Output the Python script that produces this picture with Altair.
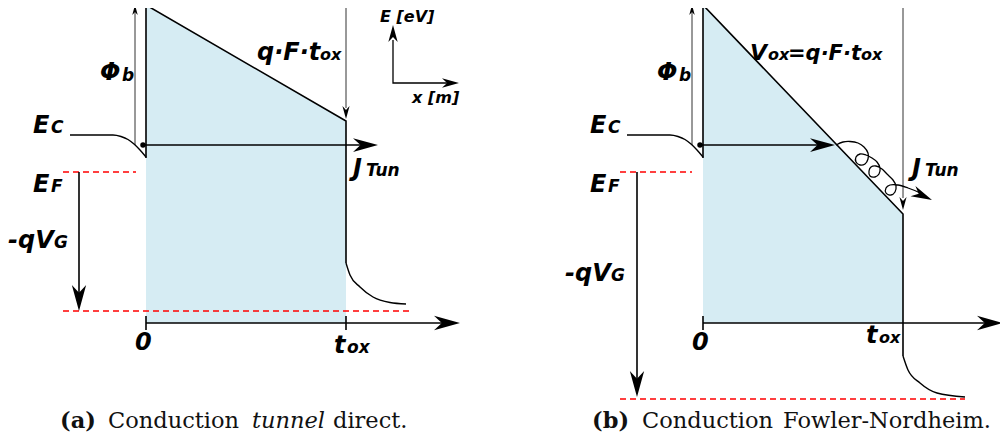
import altair as alt
import pandas as pd

# ---------------- diagram data (page-pixel units, y grows downward) ----------------
# oxide barrier fill (light blue)
FILL_A_X = [146, 346]
FILL_A_TOP = [5, 121]
FILL_B_X = [703, 903]
FILL_B_TOP = [5, 214]
FILL_BOTTOM = 323

# thick black polylines
BARRIER_A = [(146, 158), (146, 5), (346, 121), (346, 263)]
BARRIER_B = [(703, 158), (703, 5), (903, 214), (903, 356)]
JSHAFT_A = [(143, 145), (368, 145)]
JSHAFT_B = [(700, 145), (826, 145)]
XAXIS_A = [(146, 323), (448, 323)]
XAXIS_B = [(703, 323), (992, 323)]
TICK_A0 = [(146, 316), (146, 330)]
TICK_A1 = [(346, 316), (346, 330)]
TICK_B0 = [(703, 316), (703, 330)]
VG_A = [(79, 172), (79, 298)]
VG_B = [(637, 172), (637, 384)]
INSET = [(393, 40), (393, 83), (448, 83)]

# smooth curves
EC_A = [(70, 135), (113, 135), (121, 136.5), (128, 139.5), (134, 144), (140, 150), (146, 157)]
EC_B = [(627, 135), (670, 135), (678, 136.5), (685, 139.5), (691, 144), (697, 150), (703, 157)]
TAIL_A = [(346, 263), (350, 275), (360, 287), (373, 297), (390, 302.5), (406, 304)]
TAIL_B = [(903, 356), (908, 370), (920, 383), (937, 393), (965, 397)]
LOOP_B = [(836, 145), (843, 142), (850, 141.5), (858, 143), (864, 147), (868, 153), (868, 159),
          (865, 164), (860, 165), (856, 162), (856, 157), (860, 154), (866, 155), (872, 158),
          (877, 162), (880, 168), (879, 174), (875, 177), (870, 176), (869, 171), (871, 167),
          (876, 166), (882, 169), (887, 174), (893, 180), (896, 186), (895, 192), (891, 195),
          (886, 193), (886, 188), (890, 185), (898, 185), (908, 188), (918, 192), (925, 196)]

# thin lines
PHI_A = [(135, 145), (135, 12)]
PHI_B = [(692, 145), (692, 12)]
TOX_A = [(346, 6), (346, 108)]
TOX_B = [(903, 6), (903, 198)]

# red dashed levels: x start, x end, y
DASH_X1 = [63, 63, 620, 620]
DASH_X2 = [136, 410, 692, 965]
DASH_Y = [172, 311, 172, 399]

# electron dots
DOT_X = [143, 700]
DOT_Y = [145, 145]

# arrowheads: tip x, tip y, length, direction (deg clockwise from up)
HEAD_X = [135, 346, 378, 79, 460, 393, 459, 692, 903, 835, 932, 637, 1003]
HEAD_Y = [5, 119, 145, 311, 323, 25, 83, 5, 210, 145, 200, 397, 323]
HEAD_LEN = [10, 13, 25, 26, 26, 17, 17, 10, 13, 25, 21, 26, 26]
HEAD_DIR = [0, 180, 90, 180, 90, 0, 90, 0, 180, 90, 115, 180, 90]

# labels (bold italic): text, x, baseline y, font size
LAB_TEXT = ["Φ", "b", "E", "C", "E", "F", "-qV", "G", "q·F·t", "ox", "J", "Tun", "0", "t", "ox",
            "E [eV]", "x [m]",
            "Φ", "b", "E", "C", "E", "F", "-qV", "G", "V", "ox", "=q·F·t", "ox", "J", "Tun", "0",
            "t", "ox"]
LAB_X = [100, 122, 33, 51, 33, 51, 8, 54, 257, 320, 353, 366, 135, 334, 347,
         380, 412,
         657, 679, 590, 608, 590, 608, 565, 611, 750, 768, 788, 861, 912, 925, 692,
         866, 879]
LAB_Y = [80, 81, 133, 133, 192, 192, 248, 248, 60, 60, 176, 176, 350, 353, 353,
         22, 103,
         80, 81, 133, 133, 192, 192, 281, 281, 60, 60, 60, 60, 176, 176, 350,
         343, 343]
LAB_SIZE = [24, 17, 24, 17, 24, 17, 24, 17, 24, 16, 24, 17, 24, 24, 17,
            16, 16,
            24, 17, 24, 17, 24, 17, 24, 17, 22, 16, 21, 16, 24, 17, 24,
            24, 16]

# captions: pieces with style
CAP_TEXT = ["(a)", "Conduction", "tunnel", "direct.", "(b)", "Conduction", "Fowler-Nordheim."]
CAP_X = [60, 108, 252, 333, 592, 642, 783]
CAP_STYLE = ["bold", "normal", "italic", "normal", "bold", "normal", "normal"]
CAP_Y = 428

# ---------------- build tables ----------------
def poly_frame(named):
    rows = []
    for name, pts in named.items():
        for i, (x, y) in enumerate(pts):
            rows.append({"id": name, "ord": i, "x": x, "y": y})
    return pd.DataFrame(rows)

fill_df = pd.DataFrame({
    "id": ["a", "a", "b", "b"],
    "x": FILL_A_X + FILL_B_X,
    "y": FILL_A_TOP + FILL_B_TOP,
    "y2": [FILL_BOTTOM] * 4,
})
thick_df = poly_frame({"ba": BARRIER_A, "bb": BARRIER_B, "ja": JSHAFT_A, "jb": JSHAFT_B,
                       "xa": XAXIS_A, "xb": XAXIS_B, "t0": TICK_A0, "t1": TICK_A1, "t2": TICK_B0,
                       "va": VG_A, "vb": VG_B})
inset_df = poly_frame({"in": INSET})
curve_df = poly_frame({"eca": EC_A, "ecb": EC_B, "ta": TAIL_A, "tb": TAIL_B})
loop_df = poly_frame({"loop": LOOP_B})
thin_df = poly_frame({"pa": PHI_A, "pb": PHI_B, "oa": TOX_A, "ob": TOX_B})
dash_df = pd.DataFrame({"x": DASH_X1, "x2": DASH_X2, "y": DASH_Y})
dot_df = pd.DataFrame({"x": DOT_X, "y": DOT_Y})
head_df = pd.DataFrame({"x": HEAD_X, "y": HEAD_Y, "s": [l * l for l in HEAD_LEN], "a": HEAD_DIR})
lab_df = pd.DataFrame({"x": LAB_X, "y": LAB_Y, "text": LAB_TEXT, "size": LAB_SIZE})
cap_df = pd.DataFrame({"x": CAP_X, "y": [CAP_Y] * len(CAP_X), "text": CAP_TEXT, "style": CAP_STYLE})

# plot area 992x429 placed at the page's 8px margin, so data units equal page pixels
X = alt.X("x:Q", scale=alt.Scale(domain=[8, 1000], nice=False, zero=False), axis=None)
Y = alt.Y("y:Q", scale=alt.Scale(domain=[8, 437], nice=False, zero=False, reverse=True), axis=None)

fill = alt.Chart(fill_df).mark_area(color="#d6ecf3", opacity=1).encode(
    X, Y, y2="y2:Q", detail="id:N")

def lines(df, width, color="black", interp="linear"):
    return alt.Chart(df).mark_line(color=color, strokeWidth=width, interpolate=interp,
                                   strokeCap="butt", strokeJoin="miter").encode(
        X, Y, detail="id:N", order="ord:Q")

thick = lines(thick_df, 1.6)
inset = lines(inset_df, 1.3)
curves = lines(curve_df, 1.4, interp="monotone")
loop = lines(loop_df, 1.3, interp="catmull-rom")
thin = lines(thin_df, 1.0, color="#333333")

dash = alt.Chart(dash_df).mark_rule(color="#ff0000", strokeWidth=1.6, strokeDash=[6, 4]).encode(
    X, Y, x2="x2:Q")

dots = alt.Chart(dot_df).mark_point(shape="circle", filled=True, color="black", size=30,
                                    opacity=1).encode(X, Y)

ARROW = "M0,0 L0.55,2 L0,1.4 L-0.55,2 Z"
heads = alt.Chart(head_df).mark_point(shape=ARROW, filled=True, color="black", opacity=1,
                                      strokeWidth=0).encode(
    X, Y, size=alt.Size("s:Q", scale=None, legend=None),
    angle=alt.Angle("a:Q", scale=None))

labels = alt.Chart(lab_df).mark_text(align="left", baseline="alphabetic", font="DejaVu Sans",
                                     fontWeight="bold", fontStyle="italic", color="black").encode(
    X, Y, text="text:N", size=alt.Size("size:Q", scale=None, legend=None))

CAP_FONT = 22.5
cap_base = alt.Chart(cap_df).encode(X, Y, text="text:N")
cap_norm = cap_base.mark_text(align="left", baseline="alphabetic", font="DejaVu Serif",
                              fontSize=CAP_FONT, color="#111111").transform_filter(
    alt.datum.style == "normal")
cap_bold = cap_base.mark_text(align="left", baseline="alphabetic", font="DejaVu Serif",
                              fontSize=CAP_FONT, fontWeight="bold", color="#111111").transform_filter(
    alt.datum.style == "bold")
cap_ital = cap_base.mark_text(align="left", baseline="alphabetic", font="DejaVu Serif",
                              fontSize=CAP_FONT, fontStyle="italic", color="#111111").transform_filter(
    alt.datum.style == "italic")

chart = alt.layer(fill, dash, thin, thick, inset, curves, loop, dots, heads, labels,
                  cap_norm, cap_bold, cap_ital).properties(
    width=992, height=429, autosize=alt.AutoSizeParams(type="none"), padding=0,
    background="white"
).configure_view(stroke=None)

chart.save("out.html", embed_options={"renderer": "svg", "actions": False})
